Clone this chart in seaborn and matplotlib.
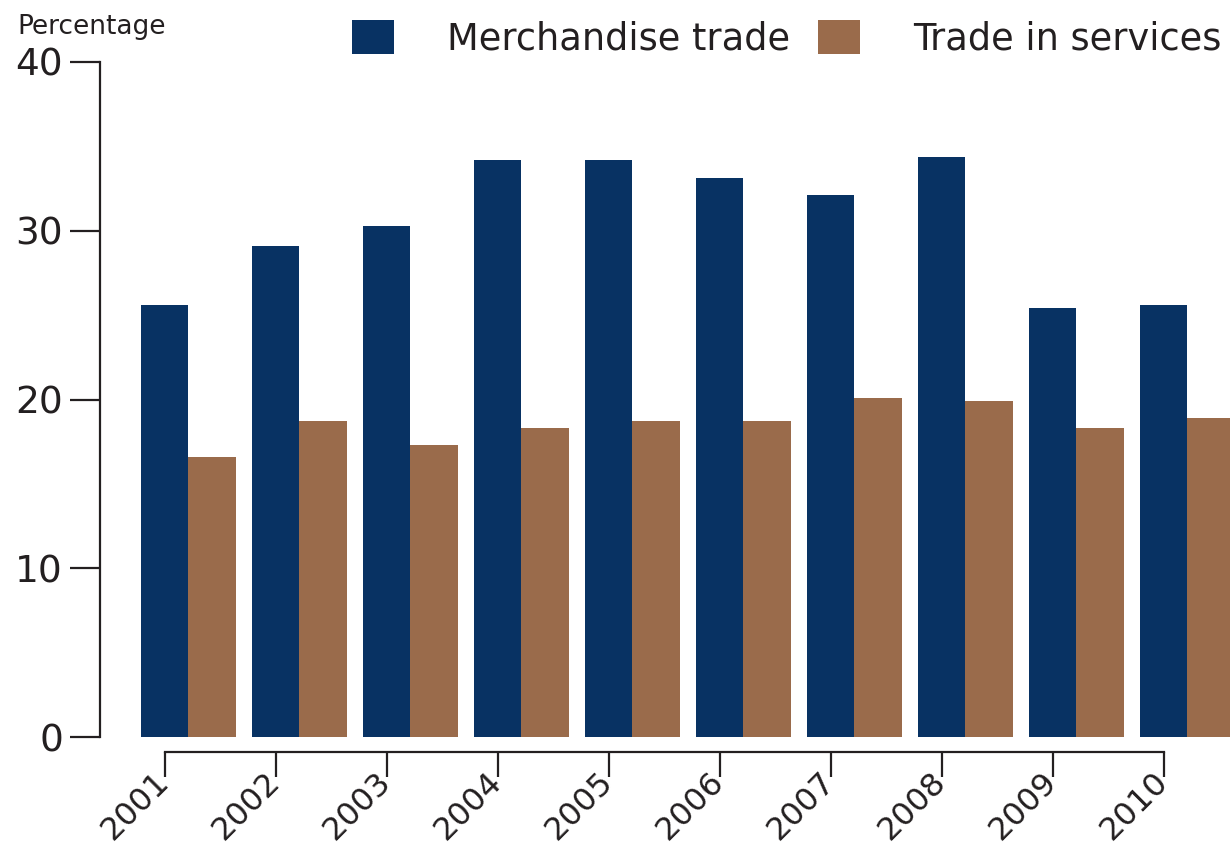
import numpy as np
import pandas as pd
import matplotlib
matplotlib.use('Agg')
import matplotlib.pyplot as plt
from matplotlib.patches import Patch
import seaborn as sns

# Data
years = ['2001', '2002', '2003', '2004', '2005', '2006', '2007', '2008', '2009', '2010']
merchandise = [25.6, 29.1, 30.3, 34.2, 34.2, 33.1, 32.1, 34.4, 25.4, 25.6]
services = [16.6, 18.7, 17.3, 18.3, 18.7, 18.7, 20.1, 19.9, 18.3, 18.9]
series_names = ['Merchandise trade', 'Trade in services']
colors = ['#083263', '#9a6b4b']

df = pd.DataFrame({
    'year': years * 2,
    'value': merchandise + services,
    'series': [series_names[0]] * len(years) + [series_names[1]] * len(years),
})

sns.set_style("white")
plt.rcParams['font.family'] = ['DejaVu Sans']
plt.rcParams['text.color'] = '#231f20'

W, H = 1230, 848
fig = plt.figure(figsize=(W / 100, H / 100), dpi=100)
ax = fig.add_axes([100 / W, (H - 737) / H, 1130 / W, 675 / H])

bar_w = 0.86
sns.barplot(data=df, x='year', y='value', hue='series', palette=colors,
            width=bar_w, dodge=True, saturation=1, linewidth=0, ax=ax, legend=False)

ax.set_xlim(-0.797, 9.383)
ax.set_ylim(0, 40)
ax.set_xlabel('')
ax.set_ylabel('')

for s in ['top', 'right']:
    ax.spines[s].set_visible(False)
for s in ['left', 'bottom']:
    ax.spines[s].set_linewidth(1.6)
    ax.spines[s].set_color('#231f20')
ax.spines['bottom'].set_position(('outward', 11))

# ticks sit at the centre of the merchandise bar
tick_pos = np.arange(len(years)) - bar_w / 4
ax.spines['bottom'].set_bounds(tick_pos[0], tick_pos[-1])
ax.set_xticks(tick_pos)
ax.set_xticklabels(years, rotation=45, ha='right', va='center', rotation_mode='anchor')
ax.set_yticks([0, 10, 20, 30, 40])

ax.tick_params(axis='y', direction='out', length=21.6, width=1.6, color='#231f20',
               labelsize=27, labelcolor='#231f20', pad=5, left=True)
ax.tick_params(axis='x', direction='out', length=18, width=1.6, color='#231f20',
               labelsize=23, labelcolor='#231f20', pad=0, bottom=True)
ax.grid(False)

handles = [Patch(facecolor=c, edgecolor='none') for c in colors]
fig.legend(handles, series_names, loc='upper left', bbox_to_anchor=(352 / W, 1 - 20 / H),
           ncol=2, frameon=False, fontsize=26.5, handlelength=1.14, handleheight=1.03,
           handletextpad=1.44, columnspacing=0.76, borderaxespad=0, borderpad=0)

fig.text(17 / W, 1 - 14 / H, 'Percentage', fontsize=19, va='top', ha='left')

plt.savefig('out.png', dpi=100)
